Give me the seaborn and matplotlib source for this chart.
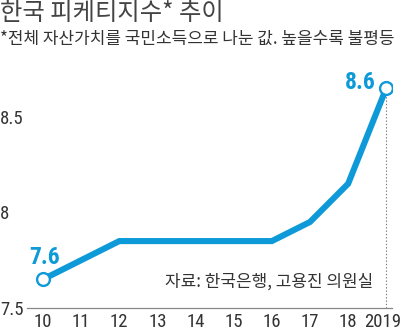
import matplotlib
matplotlib.use("Agg")
import matplotlib.pyplot as plt
import matplotlib.transforms as mtransforms
import seaborn as sns
import pandas as pd
from matplotlib import font_manager
from matplotlib.font_manager import FontProperties

years = [2010, 2011, 2012, 2013, 2014, 2015, 2016, 2017, 2018, 2019]
tick_labels = ["10", "11", "12", "13", "14", "15", "16", "17", "18", "2019"]
piketty = [7.65, 7.75, 7.85, 7.85, 7.85, 7.85, 7.85, 7.95, 8.15, 8.65]
end_labels = ["7.6", "8.6"]
y_ticks = [7.5, 8.0, 8.5]
y_tick_labels = ["7.5", "8", "8.5"]

title = "한국 피케티지수* 추이"
subtitle = "*전체 자산가치를 국민소득으로 나눈 값. 높을수록 불평등"
source = "자료: 한국은행, 고용진 의원실"


def find_narrow(bold=False):
    cands = []
    for f in font_manager.fontManager.ttflist:
        nm = (f.name + " " + f.fname).lower()
        is_narrow = ("narrow" in nm or "condensed" in nm or
                     f.stretch in ("condensed", "semi-condensed", "extra-condensed"))
        if not is_narrow:
            continue
        w = f.weight if isinstance(f.weight, int) else (700 if f.weight == "bold" else 400)
        if f.style != "normal":
            continue
        score = 0
        if "liberation" in nm or "arial" in nm:
            score += 10
        if "roboto" in nm:
            score += 8
        if "dejavu" in nm:
            score += 2
        score -= abs(w - (700 if bold else 400)) / 100
        cands.append((score, f.fname))
    if cands:
        cands.sort(reverse=True)
        return cands[0][1]
    return None


reg_path = find_narrow(False)
bold_path = find_narrow(True)


def num_font(size, bold=False):
    p = bold_path if bold else reg_path
    if p:
        fp = FontProperties(fname=p, size=size)
        if bold and p == reg_path:
            fp.set_weight("bold")
        return fp
    return FontProperties(family="DejaVu Sans", size=size,
                          weight="bold" if bold else "normal", stretch="condensed")


sns.set_theme(style="white")
plt.rcParams["font.family"] = ["Noto Sans CJK KR", "DejaVu Sans"]

BLUE = "#0e9ad8"
GREY_TXT = "#333333"

df = pd.DataFrame({"year": years, "value": piketty})

W, H = 400, 332
fig = plt.figure(figsize=(W / 100, H / 100), dpi=100)
ax = fig.add_axes([27 / W, 24 / H, (392 - 27) / W, (308 - 69) / H])

sns.lineplot(data=df, x="year", y="value", ax=ax, color=BLUE, linewidth=4.4,
             solid_joinstyle="miter", zorder=3)
ends = df.iloc[[0, -1]]
sns.scatterplot(data=ends, x="year", y="value", ax=ax, s=85, color="white",
                edgecolor=BLUE, linewidth=1.7, zorder=4)

ax.plot([years[-1], years[-1]], [y_ticks[0], piketty[-1]], color="#777777",
        linestyle=(0, (1.2, 1.8)), linewidth=0.8, zorder=2)

ax.set_xlim(2009.58, 2019.15)
ax.set_ylim(7.5, 8.75)
ax.set_xticks(years)
ax.set_xticklabels(tick_labels, fontproperties=num_font(13.5), color=GREY_TXT)
ax.set_yticks(y_ticks)
ax.set_yticklabels(y_tick_labels, fontproperties=num_font(13.5), color=GREY_TXT,
                   ha="left")
ax.tick_params(axis="x", direction="in", length=3.5, width=0.8, color="#888888", pad=3.5)
ax.tick_params(axis="y", length=0, pad=19.5)
# last label ("2019") sits slightly left of its tick, like the reference
last = ax.get_xticklabels()[-1]
last.set_horizontalalignment("right")
last.set_transform(last.get_transform() +
                   mtransforms.ScaledTranslation(15 / 100, 0, fig.dpi_scale_trans))
ax.set_xlabel("")
ax.set_ylabel("")
for s in ["top", "right", "left"]:
    ax.spines[s].set_visible(False)
ax.spines["bottom"].set_color("#888888")
ax.spines["bottom"].set_linewidth(0.9)

ax.annotate(end_labels[0], (years[0], piketty[0]), xytext=(2, 15),
            textcoords="offset pixels", ha="center", va="baseline",
            fontproperties=num_font(17, True), color=BLUE)
ax.annotate(end_labels[1], (years[-1], piketty[-1]), xytext=(-11, -1),
            textcoords="offset pixels", ha="right", va="baseline",
            fontproperties=num_font(17, True), color=BLUE)

fig.text(0 / W, 1 - 0 / H, title, ha="left", va="top", fontsize=17.5,
         color="#444444")
fig.text(0 / W, 1 - 30 / H, subtitle, ha="left", va="top", fontsize=12.2,
         color=GREY_TXT)
ax.text(373 / W, 1 - 282 / H, source, transform=fig.transFigure, ha="right",
        va="center", fontsize=12.2, color=GREY_TXT)

fig.savefig("out.png", dpi=100)
